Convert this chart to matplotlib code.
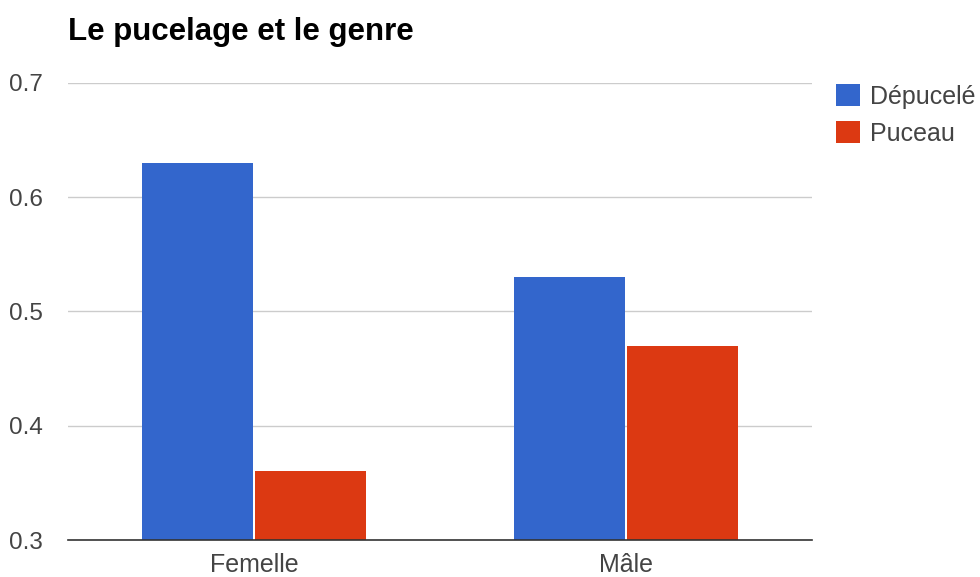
import matplotlib.pyplot as plt
import numpy as np

plt.rcParams['font.family'] = ['Liberation Sans', 'DejaVu Sans']

# données
categories = ['Femelle', 'Mâle']
depucele = [0.63, 0.53]
puceau = [0.36, 0.47]
series_names = ['Dépucelé', 'Puceau']
y_ticks = [0.3, 0.4, 0.5, 0.6, 0.7]

fig = plt.figure(figsize=(9.8, 5.77), dpi=100)
ax = fig.add_axes([0.0694, 0.0641, 0.7592, 0.7921])

x = np.arange(len(categories))
w = 0.30
ax.bar(x - 0.152, depucele, w, color='#3366CC', label=series_names[0], zorder=3)
ax.bar(x + 0.152, puceau, w, color='#DC3912', label=series_names[1], zorder=3)

ax.set_xlim(-0.5, 1.5)
ax.set_ylim(0.3, 0.7)
ax.set_yticks(y_ticks)
ax.set_yticklabels([str(t) for t in y_ticks])
ax.set_xticks(x)
ax.set_xticklabels(categories)

# grille et axes
ax.grid(axis='y', color='#CCCCCC', linewidth=1, zorder=0)
for s in ['top', 'right', 'left']:
    ax.spines[s].set_visible(False)
ax.spines['bottom'].set_color('#333333')
ax.spines['bottom'].set_linewidth(1.2)
ax.spines['bottom'].set_zorder(4)
ax.tick_params(axis='both', length=0, colors='#444444')
ax.tick_params(axis='y', labelsize=17.5, pad=18)
ax.tick_params(axis='x', labelsize=18, pad=9)

fig.text(0.0694, 0.945, 'Le pucelage et le genre', fontsize=22.5, fontweight='bold',
         color='#000000', ha='left', va='center')

leg = ax.legend(loc='upper left', bbox_to_anchor=(1.019, 1.019), frameon=False,
                fontsize=18, handlelength=0.96, handleheight=0.95,
                handletextpad=0.4, labelspacing=0.5, borderaxespad=0)
for t in leg.get_texts():
    t.set_color('#444444')

plt.savefig('out.png', dpi=100)
plt.close()
